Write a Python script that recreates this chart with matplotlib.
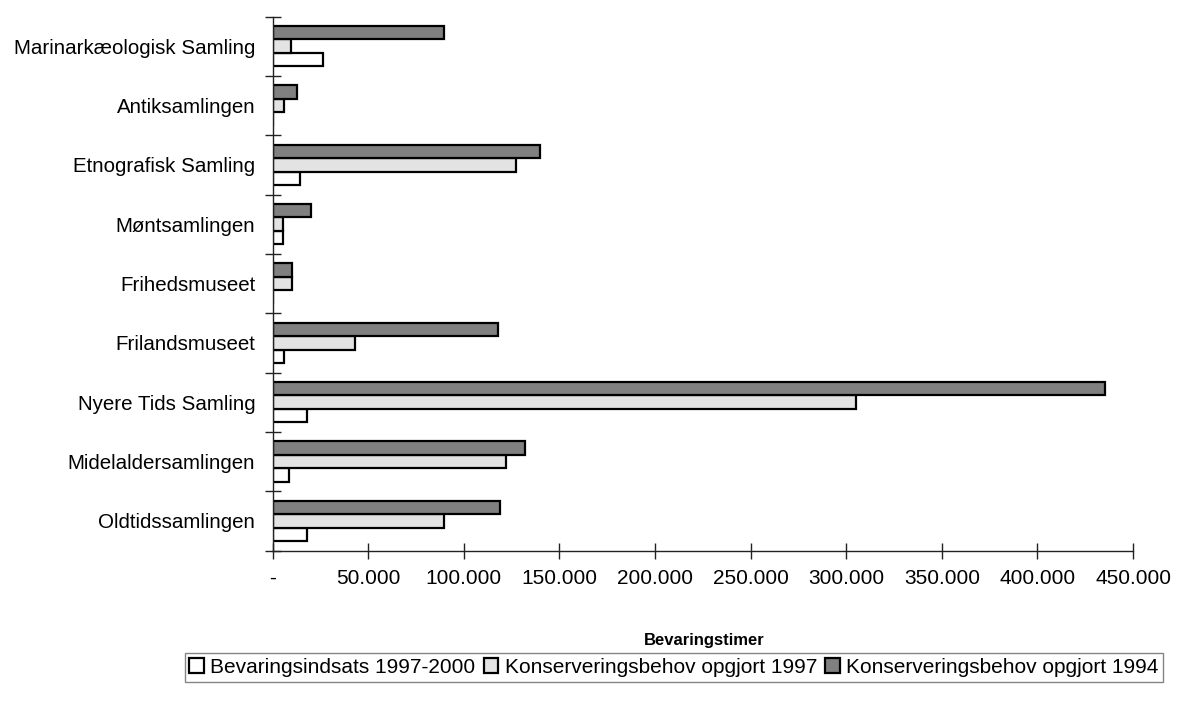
import matplotlib
matplotlib.use("Agg")
import matplotlib.pyplot as plt
import numpy as np
from matplotlib.ticker import FuncFormatter

plt.rcParams['font.family'] = ['Liberation Sans', 'DejaVu Sans']

categories = ["Oldtidssamlingen", "Midelaldersamlingen", "Nyere Tids Samling",
              "Frilandsmuseet", "Frihedsmuseet", "Møntsamlingen",
              "Etnografisk Samling", "Antiksamlingen", "Marinarkæologisk Samling"]
indsats_1997_2000 = [17800, 8500, 17800, 6200, 0, 5300, 14500, 0, 26200]
behov_1997 = [89700, 122200, 305000, 42900, 10300, 5300, 127600, 6200, 9500]
behov_1994 = [119100, 131800, 435600, 117900, 10300, 19900, 140000, 12600, 89700]
series_labels = ["Bevaringsindsats 1997-2000", "Konserveringsbehov opgjort 1997",
                 "Konserveringsbehov opgjort 1994"]
xticks = [0, 50000, 100000, 150000, 200000, 250000, 300000, 350000, 400000, 450000]

fig = plt.figure(figsize=(11.79, 7.09), dpi=100)
ax = fig.add_axes([272.5/1179, 1-550.5/709, (1133-272.5)/1179, (550.5-16.5)/709])

y = np.arange(len(categories))
h = 0.225
colors = ["#FFFFFF", "#E3E3E3", "#808080"]
data = [indsats_1997_2000, behov_1997, behov_1994]
offsets = [-h, 0, h]
handles = []
for vals, off, c, lab in zip(data, offsets, colors, series_labels):
    b = ax.barh(y + off, vals, height=h, color=c, edgecolor="black", linewidth=1.6, label=lab)
    handles.append(b)

ax.set_xlim(0, 450000)
ax.set_ylim(-0.5, len(categories) - 0.5)

for s in ["top", "right"]:
    ax.spines[s].set_visible(False)
for s in ["left", "bottom"]:
    ax.spines[s].set_color("#222222")
    ax.spines[s].set_linewidth(1.0)

ax.set_xticks(xticks)
ax.xaxis.set_major_formatter(FuncFormatter(
    lambda v, p: "-" if v == 0 else f"{int(v):,}".replace(",", ".")))
ax.tick_params(axis="x", direction="inout", length=12, width=1.0, color="#222222",
               labelsize=15, pad=7)

ax.set_yticks(y)
ax.set_yticklabels(categories)
ax.set_yticks(np.arange(-0.5, len(categories), 1.0), minor=True)
ax.tick_params(axis="y", which="major", length=0, labelsize=14.8, pad=12.5)
ax.tick_params(axis="y", which="minor", direction="inout", length=12, width=1.0, color="#222222")

fig.text(704/1179, 1-641/709, "Bevaringstimer", ha="center", va="center",
         fontsize=12, fontweight="bold")

leg = fig.legend(handles=handles, labels=series_labels, loc="center",
                 bbox_to_anchor=(674/1179, 1-667.5/709), ncol=3, fontsize=15,
                 frameon=True, fancybox=False, shadow=False, borderpad=0.22,
                 handlelength=0.7, handleheight=0.7, handletextpad=0.3,
                 columnspacing=0.4, borderaxespad=0)
leg.get_frame().set_edgecolor("#666666")
leg.get_frame().set_linewidth(1.0)

fig.savefig("out.png", dpi=100)
